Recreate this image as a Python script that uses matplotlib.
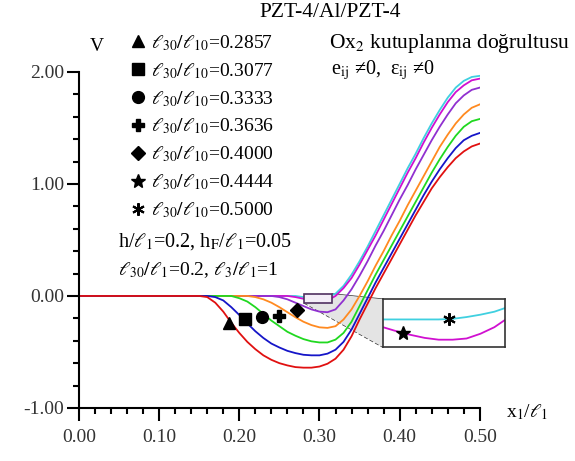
import numpy as np
import matplotlib
matplotlib.use("Agg")
from matplotlib import pyplot as plt
from matplotlib.patches import Rectangle, Polygon
from matplotlib.ticker import MultipleLocator, FormatStrFormatter

plt.rcParams['font.family'] = ['Liberation Serif', 'DejaVu Serif']
plt.rcParams['mathtext.fontset'] = 'stix'
plt.rcParams['axes.unicode_minus'] = False

# x1/l1 grid
x = [0.00, 0.10, 0.11, 0.12, 0.13, 0.14, 0.15, 0.16, 0.17, 0.18, 0.19, 0.20, 0.21, 0.22,
     0.23, 0.24, 0.25, 0.26, 0.27, 0.28, 0.29, 0.30, 0.31, 0.32, 0.33, 0.34, 0.35, 0.36,
     0.37, 0.38, 0.39, 0.40, 0.41, 0.42, 0.43, 0.44, 0.45, 0.46, 0.47, 0.48, 0.49, 0.50]

v_2857 = [0, 0, 0, 0, 0, 0, 0,
          -0.01, -0.06, -0.14, -0.24, -0.33, -0.41, -0.475, -0.53, -0.57, -0.60, -0.62, -0.635,
          -0.64, -0.64, -0.63, -0.605, -0.56, -0.48, -0.36, -0.21, -0.07, 0.07, 0.20, 0.33,
          0.46, 0.59, 0.72, 0.84, 0.96, 1.06, 1.15, 1.23, 1.29, 1.335, 1.36]
v_3077 = [0, 0, 0, 0, 0, 0, 0, 0,
          -0.01, -0.04, -0.10, -0.17, -0.245, -0.315, -0.375, -0.425, -0.46, -0.49, -0.51,
          -0.525, -0.53, -0.53, -0.515, -0.48, -0.41, -0.30, -0.16, -0.02, 0.12, 0.25, 0.38,
          0.51, 0.64, 0.77, 0.90, 1.02, 1.13, 1.23, 1.32, 1.39, 1.43, 1.455]
v_3333 = [0, 0, 0, 0, 0, 0, 0, 0, 0, 0, 0,
          -0.02, -0.05, -0.10, -0.16, -0.22, -0.27, -0.32, -0.355, -0.385, -0.405, -0.415,
          -0.415, -0.39, -0.33, -0.23, -0.09, 0.05, 0.19, 0.32, 0.45, 0.58, 0.71, 0.84, 0.97,
          1.10, 1.22, 1.33, 1.43, 1.51, 1.56, 1.58]
v_3636 = [0, 0, 0, 0, 0, 0, 0, 0, 0, 0, 0, 0, 0,
          -0.01, -0.03, -0.06, -0.10, -0.145, -0.19, -0.23, -0.26, -0.28, -0.285, -0.27,
          -0.21, -0.12, 0.00, 0.13, 0.27, 0.40, 0.54, 0.67, 0.81, 0.94, 1.07, 1.20, 1.33,
          1.44, 1.54, 1.62, 1.68, 1.71]
v_4000 = [0, 0, 0, 0, 0, 0, 0, 0, 0, 0, 0, 0, 0, 0, 0, 0,
          -0.01, -0.03, -0.06, -0.09, -0.12, -0.14, -0.145, -0.12, -0.04, 0.06, 0.18, 0.31,
          0.45, 0.58, 0.72, 0.86, 0.99, 1.13, 1.26, 1.39, 1.51, 1.62, 1.72, 1.79, 1.84, 1.86]
v_4444 = [0, 0, 0, 0, 0, 0, 0, 0, 0, 0, 0, 0, 0, 0, 0, 0, 0, 0,
          -0.01, -0.025, -0.04, -0.05, -0.04, 0.00, 0.07, 0.16, 0.28, 0.41, 0.54, 0.68, 0.82,
          0.96, 1.10, 1.23, 1.37, 1.50, 1.62, 1.73, 1.82, 1.88, 1.925, 1.94]
v_5000 = [0, 0, 0, 0, 0, 0, 0, 0, 0, 0, 0, 0, 0, 0, 0, 0, 0, 0, 0,
          -0.01, -0.015, -0.015, -0.005, 0.02, 0.09, 0.19, 0.31, 0.44, 0.58, 0.72, 0.86,
          1.00, 1.14, 1.27, 1.41, 1.54, 1.66, 1.77, 1.86, 1.92, 1.955, 1.965]

# zoomed window (inset)
xi = [0.281, 0.285, 0.289, 0.293, 0.297, 0.301, 0.305, 0.309, 0.313, 0.316]
vi_4444 = [-0.029, -0.036, -0.042, -0.047, -0.050, -0.050, -0.048, -0.040, -0.029, -0.017]
vi_5000 = [-0.016, -0.016, -0.016, -0.016, -0.016, -0.015, -0.012, -0.008, -0.003, 0.003]

ratios = ['0.2857', '0.3077', '0.3333', '0.3636', '0.4000', '0.4444', '0.5000']
series = [v_2857, v_3077, v_3333, v_3636, v_4000, v_4444, v_5000]
colors = ['#e01010', '#1515c8', '#20d820', '#ff8a20', '#9030d0', '#d010d0', '#40d0e0']
markers = ['^', 's', 'o', 'P', 'D', '*', (6, 2, 0)]
msizes = [8.5, 8, 8.5, 8.5, 7, 10, 9]
# marker positions on the curves (first five in main plot, last two in inset)
mark_x = [0.187, 0.207, 0.228, 0.250, 0.272, 0.2867, 0.300]
mark_y = [-0.24, -0.205, -0.19, -0.18, -0.125, -0.038, -0.016]

fig = plt.figure(figsize=(5.75, 4.61), dpi=100)
ax = fig.add_axes([0.1374, 0.115, 0.697, 0.729])
ax.patch.set_visible(False)

for i in [6, 5, 4, 3, 2, 1, 0]:
    ax.plot(x, series[i], color=colors[i], lw=1.3, zorder=2)

ax.set_xlim(0, 0.5)
ax.set_ylim(-1, 2.0)
for s in ['top', 'right']:
    ax.spines[s].set_visible(False)
for s in ['left', 'bottom']:
    ax.spines[s].set_linewidth(1.5)
ax.xaxis.set_major_locator(MultipleLocator(0.1))
ax.xaxis.set_minor_locator(MultipleLocator(0.02))
ax.yaxis.set_major_locator(MultipleLocator(1.0))
ax.yaxis.set_minor_locator(MultipleLocator(0.2))
ax.xaxis.set_major_formatter(FormatStrFormatter('%.2f'))
ax.yaxis.set_major_formatter(FormatStrFormatter('%.2f'))
ax.tick_params(which='major', length=9, width=1.5, labelsize=14, labelcolor='#333333')
ax.tick_params(which='minor', length=4.5, width=1.5)
ax.tick_params(axis='x', which='major', pad=6)
ax.tick_params(axis='y', which='major', pad=1.5)

# zoom rectangle and inset
rx0, rx1, ry0, ry1 = 0.281, 0.316, -0.0625, 0.018
ax.add_patch(Rectangle((rx0, ry0), rx1 - rx0, ry1 - ry0, fill=True, facecolor='#f4eef8',
                       edgecolor='#503060', lw=1.2, zorder=4))

axin = fig.add_axes([0.666, 0.247, 0.212, 0.104])
axin.plot(xi, vi_5000, color=colors[6], lw=1.3)
axin.plot(xi, vi_4444, color=colors[5], lw=1.3)
axin.set_xlim(rx0, rx1)
axin.set_ylim(ry0, ry1)
axin.set_xticks([])
axin.set_yticks([])
for s in axin.spines.values():
    s.set_linewidth(1.2)
    s.set_color('#333333')

handles = []
for i in range(7):
    target = ax if i < 5 else axin
    h, = target.plot(mark_x[i], mark_y[i], ls='none', marker=markers[i], color='black',
                     markersize=msizes[i], mew=1.5 if i == 6 else 1, zorder=5,
                     label=r'$\ell_{30}/\ell_{10}$=' + ratios[i])
    handles.append(h)

# connector between rectangle and inset (figure coordinates)
inv = fig.transFigure.inverted()
p_tr = inv.transform(ax.transData.transform((rx1, ry1)))
p_bl = inv.transform(ax.transData.transform((rx0, ry0)))
p_itl = inv.transform(axin.transAxes.transform((0, 1)))
p_ibl = inv.transform(axin.transAxes.transform((0, 0)))
fig.patches.append(Polygon([p_tr, p_itl, p_ibl, p_bl], closed=True, transform=fig.transFigure,
                           facecolor='#e4e4e4', edgecolor='none', zorder=-1))
fig.lines.append(plt.Line2D([p_tr[0], p_itl[0]], [p_tr[1], p_itl[1]], transform=fig.transFigure,
                            color='#333333', lw=1.0, zorder=-1))
fig.lines.append(plt.Line2D([p_bl[0], p_ibl[0]], [p_bl[1], p_ibl[1]], transform=fig.transFigure,
                            color='#333333', lw=1.0, ls=(0, (3, 1.5)), zorder=-1))

fig.legend(handles=handles, loc='upper left', bbox_to_anchor=(0.226, 0.928), frameon=False,
           fontsize=14, handlelength=0.8, handletextpad=0.3, labelspacing=0.42,
           borderaxespad=0, borderpad=0, numpoints=1)

fig.text(0.574, 0.972, 'PZT-4/Al/PZT-4', ha='center', va='center', fontsize=15.5)
fig.text(0.169, 0.900, 'V', ha='center', va='center', fontsize=14)
fig.text(0.572, 0.905, 'Ox$_2$ kutuplanma doğrultusu', ha='left', va='center', fontsize=15.5)
fig.text(0.576, 0.848, r'e$_{\mathrm{ij}}$ ≠0,  ε$_{\mathrm{ij}}$ ≠0', ha='left', va='center',
         fontsize=14.5)
fig.text(0.205, 0.475, r'h/$\ell_1$=0.2, h$_{\mathrm{F}}$/$\ell_1$=0.05', ha='left', va='center',
         fontsize=14.5)
fig.text(0.205, 0.414, r'$\ell_{30}/\ell_1$=0.2, $\ell_3/\ell_1$=1', ha='left', va='center',
         fontsize=14)
fig.text(0.880, 0.106, r'x$_1$/$\ell_1$', ha='left', va='center', fontsize=14)

fig.savefig('out.png', dpi=100)
